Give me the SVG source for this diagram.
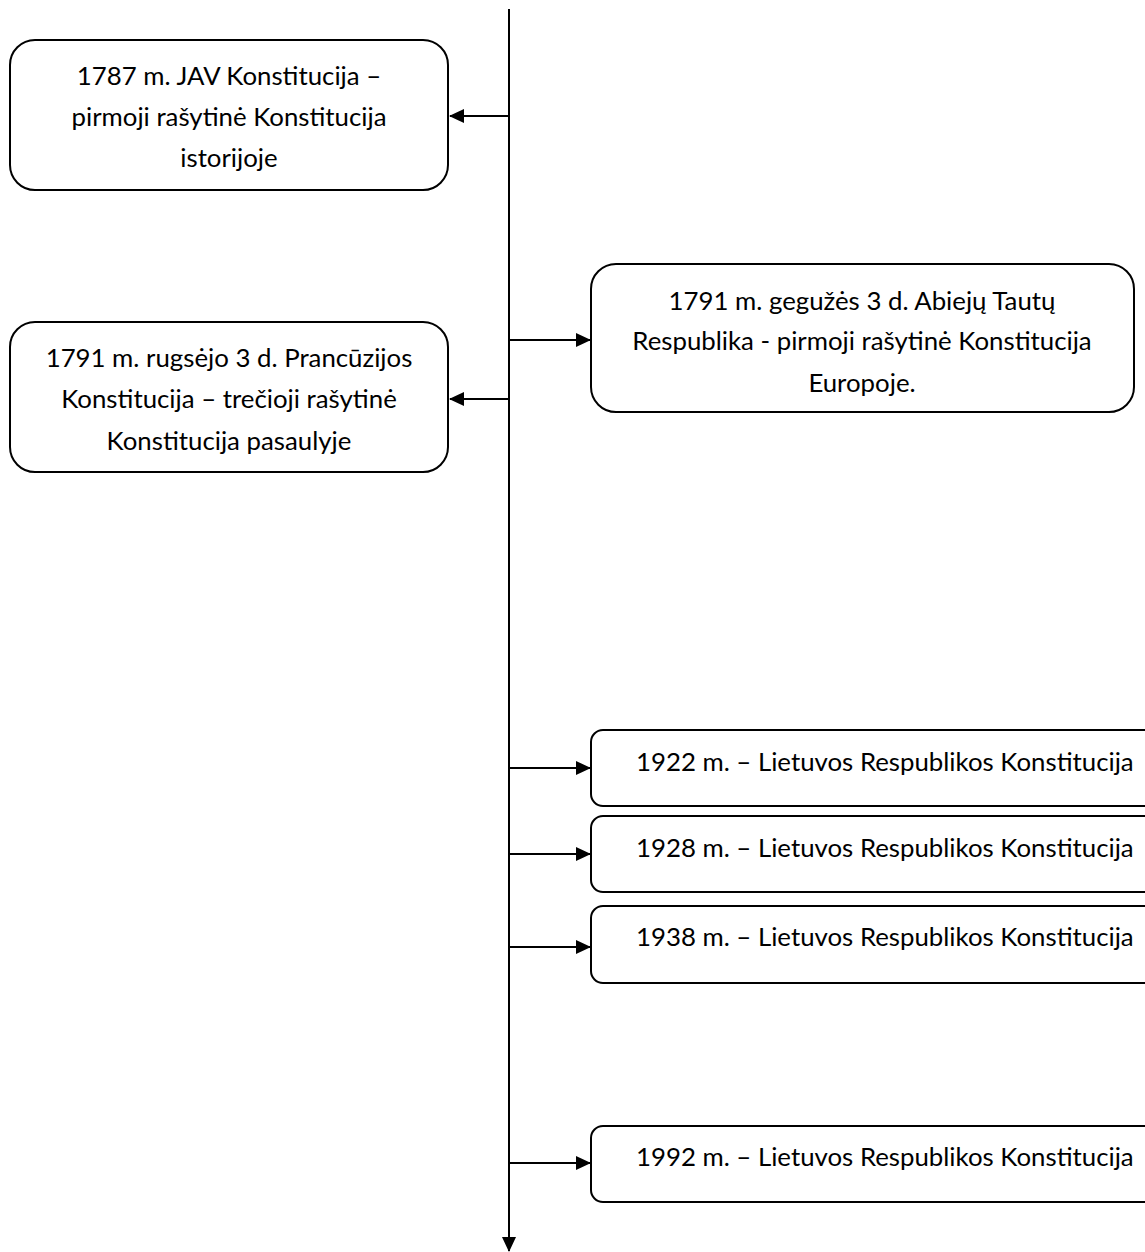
<svg xmlns="http://www.w3.org/2000/svg" width="1145" height="1252" viewBox="0 0 1145 1252">
<style>
.box{fill:#fff;stroke:#000;stroke-width:2}
.t{font-family:Lato,"Open Sans",sans-serif;font-size:25.8px;fill:#000}
.c{text-anchor:middle}
.ln{stroke:#000;stroke-width:2;fill:none}
</style>
<defs>
<marker id="ahb" markerWidth="15" markerHeight="14" refX="14" refY="7" orient="auto" markerUnits="userSpaceOnUse" viewBox="0 0 15 14">
<path d="M0,0 L15,7 L0,14 z" fill="#000"/>
</marker>
</defs>
<g id="connectors">
<line class="ln" x1="509" y1="9" x2="509" y2="1251" marker-end="url(#ahb)"/>
<line class="ln" x1="509" y1="116" x2="450" y2="116" marker-end="url(#ahb)"/>
<line class="ln" x1="509" y1="340" x2="590" y2="340" marker-end="url(#ahb)"/>
<line class="ln" x1="509" y1="399" x2="450" y2="399" marker-end="url(#ahb)"/>
<line class="ln" x1="509" y1="768" x2="590" y2="768" marker-end="url(#ahb)"/>
<line class="ln" x1="509" y1="854" x2="590" y2="854" marker-end="url(#ahb)"/>
<line class="ln" x1="509" y1="947" x2="590" y2="947" marker-end="url(#ahb)"/>
<line class="ln" x1="509" y1="1163" x2="590" y2="1163" marker-end="url(#ahb)"/>
</g>
<g id="n1787">
<rect class="box" x="10" y="40" width="438" height="150" rx="25"/>
<text class="t c" x="229" y="85">1787 m. JAV Konstitucija –</text>
<text class="t c" x="229" y="126">pirmoji rašytinė Konstitucija</text>
<text class="t c" x="229" y="167">istorijoje</text>
</g>
<g id="n1791a">
<rect class="box" x="591" y="264" width="543" height="148" rx="25"/>
<text class="t c" x="862" y="310">1791 m. gegužės 3 d. Abiejų Tautų</text>
<text class="t c" x="862" y="350">Respublika - pirmoji rašytinė Konstitucija</text>
<text class="t c" x="862" y="392">Europoje.</text>
</g>
<g id="n1791b">
<rect class="box" x="10" y="322" width="438" height="150" rx="25"/>
<text class="t c" x="229" y="367">1791 m. rugsėjo 3 d. Prancūzijos</text>
<text class="t c" x="229" y="408">Konstitucija – trečioji rašytinė</text>
<text class="t c" x="229" y="450">Konstitucija pasaulyje</text>
</g>
<g id="n1922">
<rect class="box" x="591" y="730" width="580" height="76" rx="12"/>
<text class="t" x="636" y="771">1922 m. – Lietuvos Respublikos Konstitucija</text>
</g>
<g id="n1928">
<rect class="box" x="591" y="816" width="580" height="76" rx="12"/>
<text class="t" x="636" y="857">1928 m. – Lietuvos Respublikos Konstitucija</text>
</g>
<g id="n1938">
<rect class="box" x="591" y="906" width="580" height="77" rx="12"/>
<text class="t" x="636" y="946">1938 m. – Lietuvos Respublikos Konstitucija</text>
</g>
<g id="n1992">
<rect class="box" x="591" y="1126" width="580" height="76" rx="12"/>
<text class="t" x="636" y="1166">1992 m. – Lietuvos Respublikos Konstitucija</text>
</g>
</svg>
